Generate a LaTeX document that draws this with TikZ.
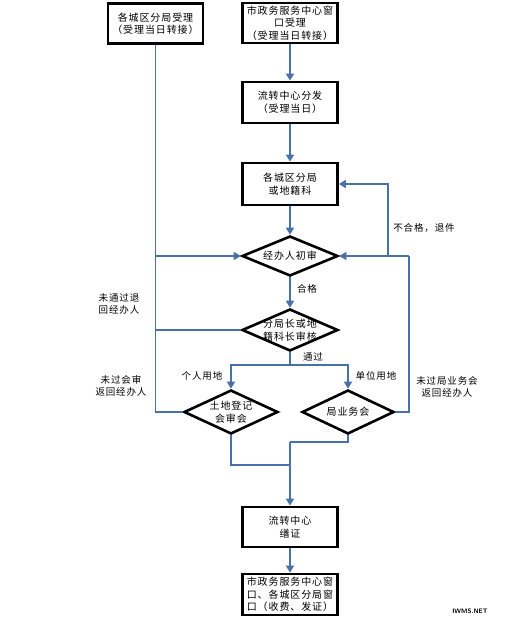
\documentclass[tikz,border=0pt]{standalone}
\usepackage{fontspec}
\newfontfamily\cjk[LetterSpace=9]{Noto Sans CJK SC}
\usetikzlibrary{shapes.geometric,arrows.meta}
\definecolor{conncol}{RGB}{74,112,168}
\tikzset{
  box/.style={draw=black,line width=2.8pt,fill=white,minimum width=95pt,minimum height=40pt,inner sep=1pt,align=center,font=\cjk\fontsize{10}{12.5}\selectfont},
  dia/.style={draw=black,line width=2.6pt,fill=white,diamond,inner sep=0pt},
  txt/.style={align=center,font=\cjk\fontsize{10}{12.5}\selectfont,inner sep=0pt},
  lbl/.style={align=center,font=\cjk\fontsize{9.5}{12.5}\selectfont,inner sep=0pt},
  conn/.style={draw=conncol,line width=1.5pt},
  arr/.style={-{Triangle[length=7pt,width=8pt]}}
}
\begin{document}
\begin{tikzpicture}[x=1pt,y=-1pt]
\useasboundingbox (0,0) rectangle (506,624);
\fill[white] (0,0) rectangle (506,624);
% boxes
\node[box] (b1) at (155.5,23.5) {各城区分局受理\\（受理当日转接）};
\node[box] (b2) at (290,23) {市政务服务中心窗\\口受理\\（受理当日转接）};
\node[box,minimum height=41pt] (b3) at (290,102.5) {流转中心分发\\（受理当日）};
\node[box,minimum height=42pt] (b4) at (290,184) {各城区分局\\或地籍科};
\node[box,minimum height=40pt] (b5) at (290,527) {流转中心\\缮证};
\node[box,minimum height=41pt] (b6) at (290,594.5) {市政务服务中心窗\\口、各城区分局窗\\口（收费、发证）};
% diamonds
\node[dia,minimum width=96pt,minimum height=40pt] (d1) at (290,256) {};
\node[txt] at (d1) {经办人初审};
\node[dia,minimum width=96pt,minimum height=42pt] (d2) at (290,330) {};
\node[txt] at (d2) {分局长或地\\籍科长审核};
\node[dia,minimum width=94pt,minimum height=44pt] (d3) at (231,412) {};
\node[txt] at (d3) {土地登记\\会审会};
\node[dia,minimum width=92pt,minimum height=44pt] (d4) at (348,412) {};
\node[txt] at (d4) {局业务会};
% main flow
\draw[conn,arr] (b2) -- (b3);
\draw[conn,arr] (b3) -- (b4);
\draw[conn,arr] (b4) -- (d1);
\draw[conn,arr] (d1) -- (d2);
% left return line
\draw[conn] (b1.south) -- (b1.south |- d3.west) -- (d3.west);
\draw[conn,arr] (b1.south |- d1.west) -- (d1.west);
\draw[conn] (d2.west) -- (d2.west -| b1.south);
% right return lines
\coordinate (r1) at (409,412);
\coordinate (r2) at (388,256);
\draw[conn] (d4.east) -- (r1) -- (r1 |- d1.east);
\draw[conn,arr] (r1 |- d1.east) -- (d1.east);
\draw[conn,arr] (r2) -- (r2 |- b4.east) -- (b4.east);
% split
\coordinate (split) at (290,365);
\draw[conn] (d2.south) -- (split);
\draw[conn,arr] (split) -| (d3.north);
\draw[conn,arr] (split) -| (d4.north);
% merge
\coordinate (m1) at (290,442);
\coordinate (m2) at (290,465);
\draw[conn] (d4.south) |- (m1);
\draw[conn] (d3.south) |- (m2);
\draw[conn,arr] (m1) -- (b5);
\draw[conn,arr] (b5) -- (b6);
% labels
\node[lbl] at (307,289) {合格};
\node[lbl] at (313,357) {通过};
\node[lbl] at (202,376) {个人用地};
\node[lbl] at (376,376) {单位用地};
\node[lbl] at (424,228) {不合格，退件};
\node[lbl] at (119,304) {未通过退\\回经办人};
\node[lbl] at (121,386) {未过会审\\返回经办人};
\node[lbl] at (447,387) {未过局业务会\\返回经办人};
\node[font=\sffamily\bfseries\fontsize{6.5}{7}\selectfont,inner sep=0pt] (wm) at (470,611) {IWMS.NET};
\end{tikzpicture}
\end{document}
